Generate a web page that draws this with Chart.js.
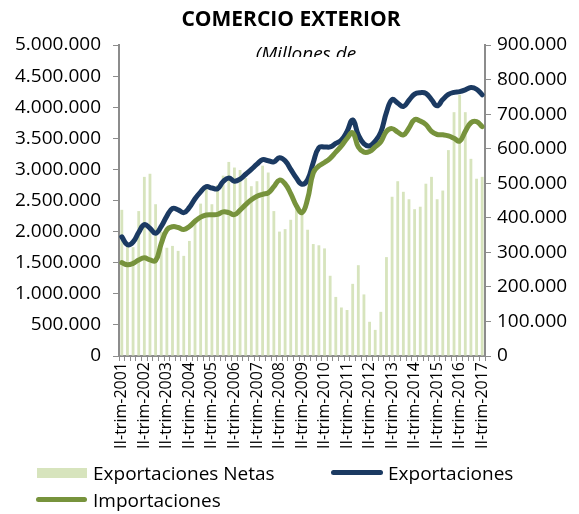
<!DOCTYPE html>
<html><head><meta charset="utf-8">
<script src="https://cdn.jsdelivr.net/npm/chart.js@4.4.0/dist/chart.umd.min.js"></script>
<style>
html,body{margin:0;padding:0;background:#fff;}
#wrap{position:relative;width:579px;height:514px;overflow:hidden;}
canvas{position:absolute;left:0;top:0;}
.lg{position:absolute;font-family:"Open Sans",sans-serif;font-size:19px;color:#000;line-height:20px;white-space:nowrap;}
.sw{position:absolute;}
</style></head><body>
<div id="wrap">
<canvas id="c" width="579" height="514"></canvas>
<div class="sw" style="left:37px;top:468px;width:50px;height:10px;background:#d7e4bd"></div>
<div class="lg" style="left:93px;top:463px">Exportaciones Netas</div>
<div class="sw" style="left:331px;top:470px;width:52px;height:5px;border-radius:3px;background:#1b3a62"></div>
<div class="lg" style="left:388px;top:463px">Exportaciones</div>
<div class="sw" style="left:36px;top:497px;width:51px;height:5px;border-radius:3px;background:#77933c"></div>
<div class="lg" style="left:93px;top:490px">Importaciones</div>
</div>
<script>
const years = [2001,2002,2003,2004,2005,2006,2007,2008,2009,2010,2011,2012,2013,2014,2015,2016,2017];
const quarterNames = ['I','II','III','IV'];
const categories = [];
years.forEach(y => quarterNames.forEach((q, k) => {
  if ((y === 2001 && k === 0) || (y === 2017 && k > 1)) return;
  categories.push(q + '-trim-' + y);
}));
const tickLabelEvery = 4;

// Exportaciones Netas (left axis)
const exportacionesNetas = [
 2350000,1800000,1750000,2330000,2880000,2930000,2440000,2000000,1740000,1770000,
 1690000,1610000,1850000,2200000,2450000,2700000,2440000,2750000,2900000,3120000,
 3030000,2990000,2860000,2730000,2810000,3060000,2950000,2330000,2000000,2040000,
 2190000,2450000,2300000,2030000,1800000,1780000,1730000,1290000,950000,780000,
 740000,1160000,1460000,990000,550000,420000,710000,1590000,2560000,2810000,
 2640000,2520000,2360000,2400000,2770000,2880000,2520000,2660000,3310000,3920000,
 4200000,3920000,3170000,2850000,2880000];
// Exportaciones (right axis)
const exportaciones = [
 345000,322000,330000,358000,380000,370000,355000,375000,405000,427000,
 423000,415000,430000,455000,475000,490000,486000,484000,505000,515000,
 506000,512000,526000,540000,555000,568000,565000,562000,574000,565000,
 540000,515000,497000,510000,560000,603000,605000,605000,615000,625000,
 650000,683000,640000,614000,608000,622000,648000,705000,742000,732000,
 722000,740000,758000,762000,760000,742000,724000,742000,757000,763000,
 765000,770000,777000,772000,756000];
// Importaciones (right axis)
const importaciones = [
 270000,264000,268000,278000,284000,278000,276000,325000,365000,374000,
 372000,366000,375000,390000,402000,408000,409000,410000,417000,415000,
 409000,422000,438000,452000,462000,468000,472000,490000,509000,498000,
 470000,435000,415000,455000,530000,550000,560000,572000,590000,608000,
 630000,646000,605000,590000,592000,605000,620000,650000,658000,648000,
 640000,660000,684000,680000,670000,650000,641000,640000,637000,630000,
 622000,650000,675000,678000,664000];

const leftTicks = {min:0, max:5000000, step:500000};
const rightTicks = {min:0, max:900000, step:100000};
const titleText = 'COMERCIO EXTERIOR';
const subtitleText = '(Millones de';

const fmt = v => Math.round(v).toString().replace(/\B(?=(\d{3})+(?!\d))/g, '.');
const FONT = '"Open Sans", sans-serif';
const axisColor = '#8c8c8c';

const titlePlugin = {
  id:'titles',
  afterDraw(chart){
    const ctx = chart.ctx;
    ctx.save();
    ctx.fillStyle = '#000';
    ctx.textAlign = 'center';
    ctx.textBaseline = 'alphabetic';
    ctx.font = 'bold 21px ' + FONT;
    ctx.fillText(titleText, 291, 26);
    ctx.beginPath(); ctx.rect(0, 30, 579, 27); ctx.clip();
    ctx.font = 'italic 19px ' + FONT;
    ctx.fillText(subtitleText, 306, 60);
    ctx.restore();
  }
};

new Chart(document.getElementById('c'), {
  data: {
    labels: categories,
    datasets: [
      {type:'line', label:'Importaciones', data: importaciones, yAxisID:'y1', borderColor:'#77933c', borderWidth:5, pointRadius:0, tension:0.45, fill:false, order:1, borderCapStyle:'round'},
      {type:'line', label:'Exportaciones', data: exportaciones, yAxisID:'y1', borderColor:'#1b3a62', borderWidth:5, pointRadius:0, tension:0.45, fill:false, order:2, borderCapStyle:'round'},
      {type:'bar', label:'Exportaciones Netas', data: exportacionesNetas, yAxisID:'y', backgroundColor:'#d7e4bd', barPercentage:0.5, categoryPercentage:1.0, order:3}
    ]
  },
  options: {
    responsive:false, animation:false,
    layout:{padding:{top:45, left:0, right:0, bottom:0}},
    plugins:{legend:{display:false}, title:{display:false}, tooltip:{enabled:false}},
    scales:{
      x:{
        grid:{display:true, drawOnChartArea:false, tickLength:5, color:axisColor, lineWidth:1},
        border:{color:axisColor, width:2},
        ticks:{autoSkip:false, maxRotation:90, minRotation:90, padding:1, color:'#000', font:{family:FONT, size:16},
          callback:(v,i)=> i % tickLabelEvery === 0 ? categories[i] : ''},
        afterFit: s => { s.height = 514 - 356; }
      },
      y:{
        position:'left', min:leftTicks.min, max:leftTicks.max,
        grid:{display:true, drawOnChartArea:false, tickLength:6, color:axisColor},
        border:{color:axisColor, width:2},
        ticks:{stepSize:leftTicks.step, padding:12, color:'#000', font:{family:FONT, size:19}, callback:v=>fmt(v)},
        afterFit: s => { s.width = 119; }
      },
      y1:{
        position:'right', min:rightTicks.min, max:rightTicks.max,
        grid:{display:true, drawOnChartArea:false, tickLength:6, color:axisColor},
        border:{color:axisColor, width:2},
        ticks:{stepSize:rightTicks.step, padding:6, color:'#000', font:{family:FONT, size:19}, callback:v=>fmt(v)},
        afterFit: s => { s.width = 579 - 485; }
      }
    }
  },
  plugins:[titlePlugin]
});
</script>
</body></html>
